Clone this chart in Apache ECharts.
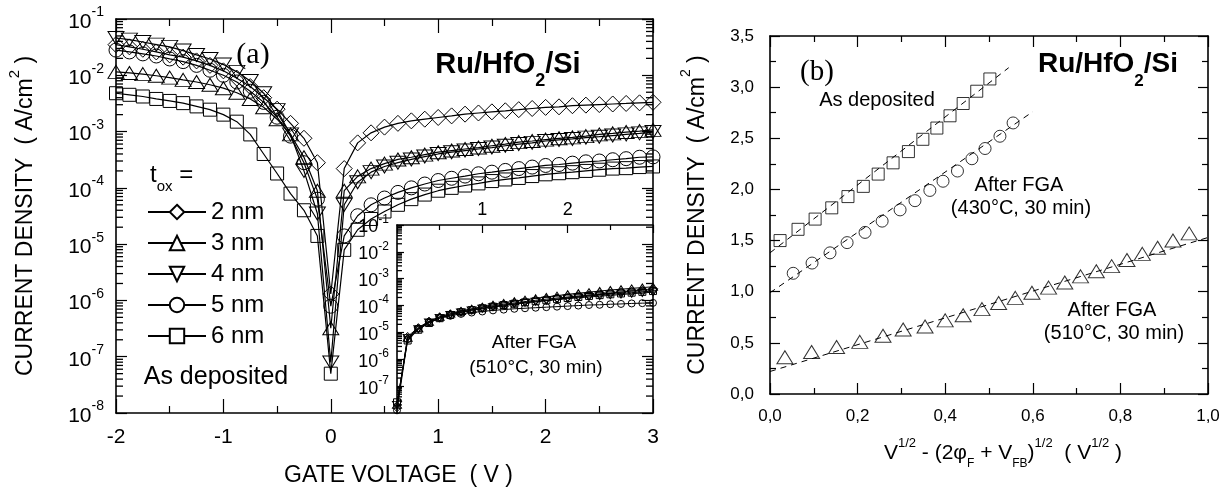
<!DOCTYPE html>
<html>
<head>
<meta charset="utf-8">
<script src="https://cdn.jsdelivr.net/npm/echarts@6/dist/echarts.min.js"></script>
<style>
  html, body { margin: 0; padding: 0; background: #fff; }
  #chart { width: 1230px; height: 492px; }
</style>
</head>
<body>
<div id="chart"></div>
<script>
// (a) 게이트 전압 - 전류밀도, as deposited
var volts = [-2, -1.875, -1.75, -1.625, -1.5, -1.375, -1.25, -1.125, -1, -0.875, -0.75, -0.625, -0.5, -0.375, -0.25, -0.125,
  0, 0.125, 0.25, 0.375, 0.5, 0.625, 0.75, 0.875, 1, 1.125, 1.25, 1.375, 1.5, 1.625, 1.75, 1.875, 2,
  2.125, 2.25, 2.375, 2.5, 2.625, 2.75, 2.875, 3];
var j2nm = [3.5e-2, 3.2e-2, 2.9e-2, 2.6e-2, 2.3e-2, 2.1e-2, 1.8e-2, 1.5e-2, 1.2e-2, 8.9e-3, 6.3e-3, 4.0e-3, 2.5e-3, 1.4e-3, 7.6e-4, 2.8e-4,
  1.3e-6, 2.2e-4, 6.3e-4, 9.5e-4, 1.2e-3, 1.4e-3, 1.55e-3, 1.66e-3, 1.78e-3, 1.9e-3, 2.04e-3, 2.14e-3, 2.24e-3, 2.34e-3, 2.45e-3, 2.57e-3, 2.69e-3,
  2.75e-3, 2.88e-3, 2.95e-3, 3.02e-3, 3.09e-3, 3.16e-3, 3.24e-3, 3.31e-3];
var j3nm = [1.15e-2, 1.1e-2, 1.05e-2, 9.8e-3, 9.1e-3, 8.3e-3, 7.6e-3, 6.8e-3, 5.9e-3, 4.9e-3, 3.8e-3, 2.7e-3, 1.66e-3, 8.9e-4, 3.5e-4, 8.9e-5,
  3.2e-7, 8.9e-5, 1.6e-4, 2.2e-4, 2.7e-4, 3.2e-4, 3.5e-4, 3.9e-4, 4.3e-4, 4.6e-4, 4.9e-4, 5.2e-4, 5.6e-4, 6.0e-4, 6.5e-4, 6.8e-4, 7.2e-4,
  7.6e-4, 7.9e-4, 8.3e-4, 8.9e-4, 9.3e-4, 9.8e-4, 1.02e-3, 1.07e-3];
var j4nm = [4.6e-2, 4.3e-2, 3.9e-2, 3.5e-2, 3.2e-2, 2.75e-2, 2.3e-2, 1.95e-2, 1.55e-2, 1.15e-2, 7.9e-3, 4.8e-3, 2.4e-3, 8.9e-4, 2.0e-4, 3.5e-5,
  7.9e-8, 5.0e-5, 1.26e-4, 1.9e-4, 2.4e-4, 2.8e-4, 3.2e-4, 3.6e-4, 4.0e-4, 4.3e-4, 4.6e-4, 4.9e-4, 5.2e-4, 5.6e-4, 6.0e-4, 6.3e-4, 6.8e-4,
  7.1e-4, 7.4e-4, 7.8e-4, 8.1e-4, 8.5e-4, 8.9e-4, 9.3e-4, 9.8e-4];
var j5nm = [2.8e-2, 2.6e-2, 2.4e-2, 2.2e-2, 1.95e-2, 1.75e-2, 1.5e-2, 1.23e-2, 1.0e-2, 7.6e-3, 5.2e-3, 3.3e-3, 1.8e-3, 8.3e-4, 2.8e-4, 6.3e-5,
  7.9e-7, 1.4e-5, 3.2e-5, 5.0e-5, 6.6e-5, 8.3e-5, 1.0e-4, 1.17e-4, 1.35e-4, 1.48e-4, 1.62e-4, 1.78e-4, 1.9e-4, 2.04e-4, 2.2e-4, 2.34e-4, 2.5e-4,
  2.6e-4, 2.75e-4, 2.9e-4, 3.0e-4, 3.16e-4, 3.3e-4, 3.5e-4, 3.55e-4];
var j6nm = [4.8e-3, 4.5e-3, 4.2e-3, 3.8e-3, 3.5e-3, 3.2e-3, 2.8e-3, 2.45e-3, 2.0e-3, 1.5e-3, 8.9e-4, 4.0e-4, 1.8e-4, 7.9e-5, 4.0e-5, 1.4e-5,
  5.0e-8, 7.9e-6, 1.8e-5, 2.8e-5, 3.8e-5, 5.0e-5, 6.3e-5, 7.6e-5, 8.9e-5, 1.0e-4, 1.1e-4, 1.2e-4, 1.32e-4, 1.41e-4, 1.5e-4, 1.62e-4, 1.74e-4,
  1.82e-4, 1.9e-4, 2.0e-4, 2.1e-4, 2.2e-4, 2.24e-4, 2.34e-4, 2.4e-4];

// 인셋: After FGA (510°C, 30 min)
var voltsFGA = [0, 0.125, 0.25, 0.375, 0.5, 0.625, 0.75, 0.875, 1, 1.125, 1.25, 1.375, 1.5, 1.625, 1.75, 1.875, 2,
  2.125, 2.25, 2.375, 2.5, 2.625, 2.75, 2.875, 3];
var fga2nm = [1.58e-8, 7.1e-6, 1.51e-5, 2.63e-5, 3.8e-5, 4.9e-5, 6.03e-5, 7.24e-5, 8.51e-5, 9.77e-5, 1.12e-4, 1.26e-4, 1.41e-4,
  1.58e-4, 1.74e-4, 1.91e-4, 2.09e-4, 2.29e-4, 2.51e-4, 2.75e-4, 2.95e-4, 3.16e-4, 3.47e-4, 3.72e-4, 3.98e-4];
var fga3nm = [2.0e-8, 6.3e-6, 1.41e-5, 2.5e-5, 3.8e-5, 5.0e-5, 6.3e-5, 7.6e-5, 9.1e-5, 1.07e-4, 1.26e-4, 1.45e-4, 1.66e-4,
  1.86e-4, 2.09e-4, 2.34e-4, 2.63e-4, 2.88e-4, 3.16e-4, 3.47e-4, 3.8e-4, 4.07e-4, 4.37e-4, 4.68e-4, 5.0e-4];
var fga4nm = [2.0e-8, 6.3e-6, 1.32e-5, 2.34e-5, 3.47e-5, 4.47e-5, 5.5e-5, 6.61e-5, 7.59e-5, 8.71e-5, 1.0e-4, 1.12e-4, 1.26e-4,
  1.38e-4, 1.51e-4, 1.66e-4, 1.82e-4, 1.95e-4, 2.09e-4, 2.24e-4, 2.4e-4, 2.57e-4, 2.75e-4, 2.95e-4, 3.16e-4];
var fga5nm = [1.26e-8, 5.6e-6, 1.41e-5, 2.4e-5, 3.39e-5, 4.17e-5, 4.9e-5, 5.5e-5, 6.03e-5, 6.61e-5, 7.08e-5, 7.59e-5, 7.94e-5,
  8.32e-5, 8.71e-5, 9.12e-5, 9.55e-5, 1.0e-4, 1.05e-4, 1.07e-4, 1.12e-4, 1.15e-4, 1.2e-4, 1.23e-4, 1.26e-4];
var fga6nm = [2.5e-8, 5.0e-6, 1.26e-5, 2.24e-5, 3.39e-5, 4.47e-5, 5.62e-5, 6.76e-5, 7.94e-5, 9.12e-5, 1.05e-4, 1.17e-4, 1.32e-4,
  1.45e-4, 1.58e-4, 1.74e-4, 1.91e-4, 2.09e-4, 2.29e-4, 2.45e-4, 2.63e-4, 2.82e-4, 3.02e-4, 3.24e-4, 3.47e-4];

// (b) 전류밀도 vs V^1/2
var depX = [0.023, 0.064, 0.103, 0.141, 0.178, 0.213, 0.247, 0.281, 0.316, 0.349, 0.381, 0.411, 0.441, 0.472, 0.502];
var depY = [1.50, 1.61, 1.71, 1.82, 1.93, 2.03, 2.15, 2.26, 2.37, 2.49, 2.60, 2.72, 2.84, 2.96, 3.08];
var f430X = [0.053, 0.096, 0.137, 0.176, 0.217, 0.256, 0.297, 0.331, 0.365, 0.395, 0.428, 0.461, 0.491, 0.525, 0.555];
var f430Y = [1.18, 1.28, 1.38, 1.48, 1.58, 1.69, 1.80, 1.89, 1.99, 2.08, 2.18, 2.30, 2.40, 2.52, 2.65];
var f510X = [0.034, 0.095, 0.152, 0.205, 0.258, 0.304, 0.354, 0.400, 0.441, 0.484, 0.522, 0.560, 0.598, 0.636, 0.673,
  0.709, 0.745, 0.780, 0.815, 0.850, 0.885, 0.920, 0.957];
var f510Y = [0.36, 0.41, 0.46, 0.51, 0.57, 0.63, 0.66, 0.72, 0.77, 0.83, 0.89, 0.94, 0.99, 1.04, 1.09,
  1.15, 1.20, 1.25, 1.31, 1.37, 1.43, 1.50, 1.57];
// 점선 (fit)
var fitDepX = [0, 0.545], fitDepY = [1.38, 3.19];
var fit430X = [0, 0.6], fit430Y = [0.99, 2.76];
var fit510X = [0, 1.0], fit510Y = [0.22, 1.53];

var thickNames = ['2 nm', '3 nm', '4 nm', '5 nm', '6 nm'];

// 로그축 보조 눈금 값 (2..9 x 10^n)
var minorLogTicks = [
  2e-8, 3e-8, 4e-8, 5e-8, 6e-8, 7e-8, 8e-8, 9e-8,
  2e-7, 3e-7, 4e-7, 5e-7, 6e-7, 7e-7, 8e-7, 9e-7,
  2e-6, 3e-6, 4e-6, 5e-6, 6e-6, 7e-6, 8e-6, 9e-6,
  2e-5, 3e-5, 4e-5, 5e-5, 6e-5, 7e-5, 8e-5, 9e-5,
  2e-4, 3e-4, 4e-4, 5e-4, 6e-4, 7e-4, 8e-4, 9e-4,
  2e-3, 3e-3, 4e-3, 5e-3, 6e-3, 7e-3, 8e-3, 9e-3,
  2e-2, 3e-2, 4e-2, 5e-2, 6e-2, 7e-2, 8e-2, 9e-2
];

var FONT = '"Liberation Sans", Arial, sans-serif';
var NARROW = '"Liberation Sans Narrow", "Liberation Sans", Arial, sans-serif';
var BLACK = '#000';
var CLEAR = 'rgba(255,255,255,0)';

function pairs(xs, ys) {
  return xs.map(function (x, i) { return [x, ys[i]]; });
}
function supLabel(v) {
  var e = Math.round(Math.log10(v));
  return '{b|10}{s|' + e + '}';
}
function commaLabel(v) {
  return v.toFixed(1).replace('.', ',');
}
var hollow = { color: CLEAR, borderColor: BLACK, borderWidth: 1 };

function ivSeries(name, data, symbol, size, rotate, xi, yi, lw) {
  return {
    name: name, type: 'line', xAxisIndex: xi, yAxisIndex: yi,
    data: data, symbol: symbol, symbolSize: size, symbolRotate: rotate,
    showAllSymbol: true,
    lineStyle: { color: BLACK, width: lw },
    itemStyle: hollow,
    emphasis: { disabled: true },
    z: 3
  };
}
function frameX(grid, pos, min, max, interval, tickLen, minorLen, labels) {
  return {
    gridIndex: grid, type: 'value', position: pos, min: min, max: max, interval: interval,
    axisLine: { onZero: false, lineStyle: { color: BLACK, width: 1.6 } },
    axisTick: { inside: true, length: tickLen, lineStyle: { color: BLACK, width: 1.2 } },
    minorTick: { show: true, splitNumber: 2, length: minorLen, lineStyle: { color: BLACK, width: 1.2 } },
    splitLine: { show: false },
    axisLabel: labels || { show: false }
  };
}
function logY(grid, pos, tickLen, labels) {
  return {
    gridIndex: grid, type: 'log', logBase: 10, position: pos, min: 1e-8, max: 1e-1,
    axisLine: { onZero: false, lineStyle: { color: BLACK, width: 1.6 } },
    axisTick: { inside: true, length: tickLen, lineStyle: { color: BLACK, width: 1.2 } },
    splitLine: { show: false },
    axisLabel: labels || { show: false }
  };
}
function note(x, y, text, font) {
  return { type: 'text', x: x, y: y, style: { text: text, font: font, fill: BLACK,
    textAlign: 'center', textVerticalAlign: 'middle', align: 'center', verticalAlign: 'middle' } };
}

var dom = document.getElementById('chart');
var myChart = echarts.init(dom, null, { renderer: 'canvas' });

var option = {
  animation: false,
  backgroundColor: '#fff',
  grid: [
    { left: 116, top: 19, width: 537, height: 394 },   // (a)
    { left: 397, top: 225, width: 256, height: 188 },  // 인셋
    { left: 770, top: 36, width: 438, height: 358 }    // (b)
  ],
  legend: {
    data: thickNames, orient: 'vertical', left: 142, top: 195,
    itemWidth: 58, itemHeight: 18, itemGap: 7, selectedMode: false,
    itemStyle: { color: '#fff' },
    textStyle: { color: BLACK, fontSize: 24, fontFamily: FONT }
  },
  xAxis: [
    frameX(0, 'bottom', -2, 3, 1, 14, 7, {
      color: BLACK, fontSize: 21, fontFamily: FONT, margin: 14
    }),
    frameX(0, 'top', -2, 3, 1, 14, 7),
    frameX(1, 'top', 0, 3, 1, 8, 5, {
      color: BLACK, fontSize: 18, fontFamily: FONT, margin: 6, showMinLabel: false, showMaxLabel: false
    }),
    frameX(2, 'bottom', 0, 1, 0.2, 11, 6, {
      color: BLACK, fontSize: 17, fontFamily: NARROW, margin: 14, formatter: commaLabel
    }),
    frameX(2, 'top', 0, 1, 0.2, 11, 6)
  ],
  yAxis: [
    logY(0, 'left', 11, {
      color: BLACK, margin: 12, formatter: supLabel,
      rich: {
        b: { fontSize: 21, fontFamily: FONT, color: BLACK, padding: [6, 0, 0, 0] },
        s: { fontSize: 14, fontFamily: FONT, color: BLACK, verticalAlign: 'top', lineHeight: 15 }
      }
    }),
    logY(0, 'right', 11),
    logY(1, 'left', 7, {
      color: BLACK, margin: 8, formatter: supLabel, showMinLabel: false, showMaxLabel: false,
      rich: {
        b: { fontSize: 18, fontFamily: FONT, color: BLACK, padding: [5, 0, 0, 0] },
        s: { fontSize: 12, fontFamily: FONT, color: BLACK, verticalAlign: 'top', lineHeight: 13 }
      }
    }),
    {
      gridIndex: 2, type: 'value', position: 'left', min: 0, max: 3.5, interval: 0.5,
      axisLine: { onZero: false, lineStyle: { color: BLACK, width: 1.6 } },
      axisTick: { inside: true, length: 10, lineStyle: { color: BLACK, width: 1.2 } },
      minorTick: { show: true, splitNumber: 2, length: 6, lineStyle: { color: BLACK, width: 1.2 } },
      splitLine: { show: false },
      axisLabel: { color: BLACK, fontSize: 17, fontFamily: NARROW, margin: 16, formatter: commaLabel }
    },
    {
      gridIndex: 2, type: 'value', position: 'right', min: 0, max: 3.5, interval: 0.5,
      axisLine: { onZero: false, lineStyle: { color: BLACK, width: 1.6 } },
      axisTick: { inside: true, length: 10, lineStyle: { color: BLACK, width: 1.2 } },
      minorTick: { show: true, splitNumber: 2, length: 6, lineStyle: { color: BLACK, width: 1.2 } },
      splitLine: { show: false }, axisLabel: { show: false }
    }
  ],
  series: [
    ivSeries('2 nm', pairs(volts, j2nm), 'diamond', 16, 0, 0, 0, 1.2),
    ivSeries('3 nm', pairs(volts, j3nm), 'triangle', [16, 13], 0, 0, 0, 1.2),
    ivSeries('4 nm', pairs(volts, j4nm), 'triangle', [16, 13], 180, 0, 0, 1.2),
    ivSeries('5 nm', pairs(volts, j5nm), 'circle', 14, 0, 0, 0, 1.2),
    ivSeries('6 nm', pairs(volts, j6nm), 'rect', 13, 0, 0, 0, 1.2),

    ivSeries('FGA 2 nm', pairs(voltsFGA, fga2nm), 'diamond', 8, 0, 2, 2, 1),
    ivSeries('FGA 3 nm', pairs(voltsFGA, fga3nm), 'triangle', [9, 7], 0, 2, 2, 1),
    ivSeries('FGA 4 nm', pairs(voltsFGA, fga4nm), 'triangle', [9, 7], 180, 2, 2, 1),
    ivSeries('FGA 5 nm', pairs(voltsFGA, fga5nm), 'circle', 7, 0, 2, 2, 1),
    ivSeries('FGA 6 nm', pairs(voltsFGA, fga6nm), 'rect', 7, 0, 2, 2, 1),

    { name: 'fit dep', type: 'line', xAxisIndex: 3, yAxisIndex: 3, data: pairs(fitDepX, fitDepY), symbol: 'none',
      lineStyle: { color: BLACK, width: 1, type: [6, 5] }, z: 2 },
    { name: 'fit 430', type: 'line', xAxisIndex: 3, yAxisIndex: 3, data: pairs(fit430X, fit430Y), symbol: 'none',
      lineStyle: { color: BLACK, width: 1, type: [6, 5] }, z: 2 },
    { name: 'fit 510', type: 'line', xAxisIndex: 3, yAxisIndex: 3, data: pairs(fit510X, fit510Y), symbol: 'none',
      lineStyle: { color: BLACK, width: 1, type: [6, 5] }, z: 2 },
    { name: 'As deposited', type: 'scatter', xAxisIndex: 3, yAxisIndex: 3, data: pairs(depX, depY),
      symbol: 'rect', symbolSize: 12, itemStyle: hollow, z: 3 },
    { name: 'FGA 430', type: 'scatter', xAxisIndex: 3, yAxisIndex: 3, data: pairs(f430X, f430Y),
      symbol: 'circle', symbolSize: 12, itemStyle: hollow, z: 3 },
    { name: 'FGA 510', type: 'scatter', xAxisIndex: 3, yAxisIndex: 3, data: pairs(f510X, f510Y),
      symbol: 'triangle', symbolSize: [16, 13], itemStyle: hollow, z: 3 }
  ],
  graphic: [
    note(253, 55, '(a)', '30px "Liberation Serif", serif'),
    { type: 'text', x: 508, y: 70, style: { text: '{r|Ru/HfO}{d|2}{r|/Si}', fill: BLACK,
      textAlign: 'center', textVerticalAlign: 'middle', align: 'center', verticalAlign: 'middle',
      rich: { r: { fontSize: 29, fontWeight: 'bold', fontFamily: FONT, padding: [0, 0, 11, 0] },
              d: { fontSize: 18, fontWeight: 'bold', fontFamily: FONT, verticalAlign: 'bottom' } } } },
    { type: 'text', x: 150, y: 179, style: { text: '{t|t}{o|ox}{t| =}', fill: BLACK,
      textAlign: 'left', textVerticalAlign: 'middle', align: 'left', verticalAlign: 'middle',
      rich: { t: { fontSize: 24, fontFamily: FONT, padding: [0, 0, 7, 0] },
              o: { fontSize: 15, fontFamily: FONT, verticalAlign: 'bottom' } } } },
    note(216, 377, 'As deposited', '25px ' + FONT),
    note(534, 343, 'After FGA', '19px ' + FONT),
    note(536, 368, '(510°C, 30 min)', '19px ' + FONT),

    note(817, 72, '(b)', '29px "Liberation Serif", serif'),
    { type: 'text', x: 1108, y: 70, style: { text: '{r|Ru/HfO}{d|2}{r|/Si}', fill: BLACK,
      textAlign: 'center', textVerticalAlign: 'middle', align: 'center', verticalAlign: 'middle',
      rich: { r: { fontSize: 28, fontWeight: 'bold', fontFamily: FONT, padding: [0, 0, 11, 0] },
              d: { fontSize: 17, fontWeight: 'bold', fontFamily: FONT, verticalAlign: 'bottom' } } } },
    note(877, 100, 'As deposited', '20px ' + FONT),
    note(1019, 185, 'After FGA', '20px ' + FONT),
    note(1021, 208, '(430°C, 30 min)', '20px ' + FONT),
    note(1112, 310, 'After FGA', '20px ' + FONT),
    note(1114, 333, '(510°C, 30 min)', '20px ' + FONT)
  ]
};

// 축 제목
option.xAxis[0].name = 'GATE VOLTAGE  ( V )';
option.xAxis[0].nameLocation = 'middle';
option.xAxis[0].nameGap = 51;
option.xAxis[0].nameTextStyle = { color: BLACK, fontSize: 23, fontFamily: FONT, padding: [0, 0, 0, 28] };

option.xAxis[3].name = '{n|V}{s|1/2}{n| - (2φ}{d|F}{n| + V}{d|FB}{n|)}{s|1/2}{n|  ( V}{s|1/2}{n| )}';
option.xAxis[3].nameLocation = 'middle';
option.xAxis[3].nameGap = 43;
option.xAxis[3].nameTextStyle = {
  padding: [0, 0, 0, 28],
  rich: {
    n: { fontSize: 21, fontFamily: FONT, color: BLACK, padding: [6, 0, 6, 0] },
    s: { fontSize: 13, fontFamily: FONT, color: BLACK, verticalAlign: 'top', lineHeight: 14 },
    d: { fontSize: 12, fontFamily: FONT, color: BLACK, verticalAlign: 'bottom', lineHeight: 13 }
  }
};

var yTitleRich = function (size, sup) {
  return {
    rich: {
      n: { fontSize: size, fontFamily: FONT, color: BLACK, padding: [7, 0, 0, 0] },
      s: { fontSize: sup, fontFamily: FONT, color: BLACK, verticalAlign: 'top', lineHeight: sup + 1 }
    }
  };
};
option.yAxis[0].name = '{n|CURRENT DENSITY  ( A/cm}{s|2}{n| )}';
option.yAxis[0].nameLocation = 'middle';
option.yAxis[0].nameGap = 79;
option.yAxis[0].nameTextStyle = yTitleRich(23, 15);
option.yAxis[3].name = '{n|CURRENT DENSITY  ( A/cm}{s|2}{n| )}';
option.yAxis[3].nameLocation = 'middle';
option.yAxis[3].nameGap = 61;
option.yAxis[3].nameTextStyle = yTitleRich(23, 14);

myChart.setOption(option);

// 로그축 보조 눈금: 축 스케일(convertToPixel)로 위치 계산
function minorTicks(yAxisIndex, xAxisIndex, xLeft, xRight, len) {
  var out = [];
  var xl = myChart.convertToPixel({ xAxisIndex: xAxisIndex }, xLeft);
  var xr = xRight == null ? null : myChart.convertToPixel({ xAxisIndex: xAxisIndex }, xRight);
  minorLogTicks.forEach(function (v) {
    var y = myChart.convertToPixel({ yAxisIndex: yAxisIndex }, v);
    out.push({ type: 'line', silent: true, z: 10,
      shape: { x1: xl, y1: y, x2: xl + len, y2: y }, style: { stroke: BLACK, lineWidth: 1.3 } });
    if (xr != null) {
      out.push({ type: 'line', silent: true, z: 10,
        shape: { x1: xr - len, y1: y, x2: xr, y2: y }, style: { stroke: BLACK, lineWidth: 1.3 } });
    }
  });
  return out;
}
option.graphic = option.graphic
  .concat(minorTicks(0, 0, -2, 3, 7))
  .concat(minorTicks(2, 2, 0, null, 5));
myChart.setOption(option, true);

window.addEventListener('resize', myChart.resize);
</script>
</body>
</html>
